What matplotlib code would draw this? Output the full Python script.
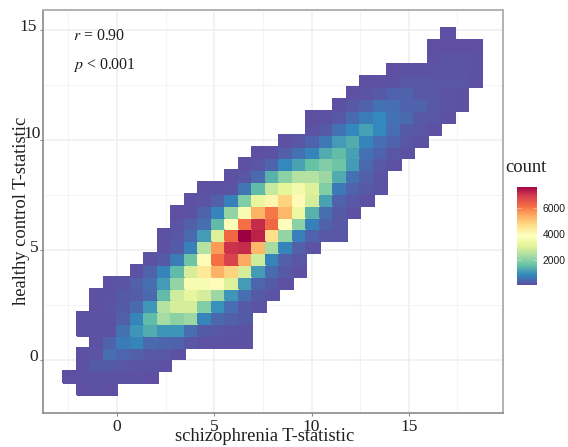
import matplotlib
matplotlib.use("Agg")
import matplotlib.pyplot as plt
import numpy as np
from matplotlib.colors import Normalize
from matplotlib.transforms import ScaledTranslation

# first occupied column of each row, bottom row first, with the counts that follow
row_starts = [1, 0, 1, 1, 2, 1, 1, 2, 2, 3, 5, 6, 7, 7, 8, 8, 9, 10, 12, 13, 14, 16, 18, 18, 20, 21, 22, 24, 27, 27, 28]
row_00 = [100, 110, 100]
row_01 = [100, 110, 120, 130, 120, 110, 100]
row_02 = [110, 230, 230, 170, 160, 140, 110]
row_03 = [110, 140, 500, 400, 300, 220, 200, 130]
row_04 = [120, 350, 700, 800, 450, 400, 350, 180, 130, 110, 110, 110]
row_05 = [110, 120, 130, 550, 1000, 1300, 1000, 1000, 500, 250, 170, 150, 130]
row_06 = [110, 120, 130, 300, 800, 1500, 2300, 2000, 2200, 800, 420, 300, 250]
row_07 = [130, 150, 250, 450, 1050, 2500, 2900, 2900, 1900, 950, 500, 250, 150]
row_08 = [120, 130, 250, 280, 450, 1500, 2800, 3200, 2900, 2200, 1000, 500, 250, 150]
row_09 = [120, 150, 300, 500, 1100, 2100, 3600, 3600, 3950, 3000, 1100, 400, 250, 120]
row_10 = [120, 350, 800, 1500, 2900, 4400, 5300, 4800, 2900, 1100, 450, 200, 130]
row_11 = [130, 250, 700, 1700, 3950, 6100, 6800, 5400, 2800, 800, 300, 170]
row_12 = [120, 250, 750, 2500, 5600, 7000, 7100, 5200, 2300, 800, 300, 150]
row_13 = [130, 170, 450, 1100, 3000, 6200, 7640, 7200, 4600, 2100, 750, 350, 220, 180]
row_14 = [150, 300, 500, 1500, 3700, 6100, 7100, 6200, 3900, 2000, 750, 350, 200]
row_15 = [100, 130, 350, 800, 2100, 3600, 5300, 6000, 5200, 3300, 1400, 500, 250, 130]
row_16 = [120, 140, 300, 750, 1900, 3200, 4100, 4800, 4000, 2900, 1200, 350, 200, 130]
row_17 = [120, 120, 150, 600, 1500, 2700, 3100, 3500, 3000, 1900, 650, 350, 200, 150]
row_18 = [120, 180, 450, 1400, 2000, 2500, 2500, 2200, 1300, 550, 300, 150]
row_19 = [120, 180, 350, 850, 1200, 1600, 1900, 1700, 1100, 450, 220, 130]
row_20 = [100, 120, 300, 550, 800, 1300, 1550, 1150, 550, 350, 180, 120]
row_21 = [120, 180, 350, 650, 1100, 1300, 800, 500, 350, 180, 120]
row_22 = [120, 250, 550, 850, 1150, 850, 500, 250, 170, 130]
row_23 = [100, 120, 220, 450, 700, 850, 550, 450, 220, 170, 120]
row_24 = [120, 200, 350, 550, 500, 350, 350, 200, 150, 120]
row_25 = [120, 160, 200, 350, 350, 220, 170, 150, 130]
row_26 = [100, 110, 130, 200, 220, 180, 170, 170, 120]
row_27 = [100, 110, 110, 140, 150, 150, 120]
row_28 = [120, 150, 150, 120]
row_29 = [100, 100, 100, 100]
row_30 = [100]
rows = [row_00, row_01, row_02, row_03, row_04, row_05, row_06, row_07, row_08, row_09,
        row_10, row_11, row_12, row_13, row_14, row_15, row_16, row_17, row_18, row_19,
        row_20, row_21, row_22, row_23, row_24, row_25, row_26, row_27, row_28, row_29, row_30]

x_first_edge, x_bin = -2.76, 0.694
y_first_edge, y_bin = -1.59, 0.538
x_ticks = [0, 5, 10, 15]
y_ticks = [0, 5, 10, 15]
x_label = "schizophrenia T-statistic"
y_label = "healthy control T-statistic"
legend_ticks = [2000, 4000, 6000]
count_min, count_max = 80, 7640

W, H = 568, 447
SERIF = "Liberation Serif"
INK = "#1f1f1f"
plt.rcParams["font.family"] = SERIF
fig = plt.figure(figsize=(W / 100, H / 100), dpi=100)


def axes_px(l, t, r, b, **kw):
    return fig.add_axes([l / W, 1 - b / H, (r - l) / W, (b - t) / H], **kw)


ax = axes_px(42.5, 10.5, 502.7, 413)
grid = np.full((len(rows), 31), np.nan)
for r, (start, vals) in enumerate(zip(row_starts, rows)):
    grid[r, start:start + len(vals)] = vals
xe = x_first_edge + x_bin * np.arange(32)
ye = y_first_edge + y_bin * np.arange(32)
norm = Normalize(count_min, count_max)
cmap = plt.get_cmap("Spectral_r")
ax.pcolormesh(xe, ye, np.ma.masked_invalid(grid), cmap=cmap, norm=norm, zorder=2,
              edgecolors="face", linewidth=0.15)
ax.set_xlim(-3.83, 19.83)
ax.set_ylim(-2.41, 15.9)
ax.set_xticks(x_ticks)
ax.set_yticks(y_ticks)
ax.set_xticks([-2.5, 2.5, 7.5, 12.5, 17.5], minor=True)
ax.set_yticks([2.5, 7.5, 12.5], minor=True)
ax.grid(True, which="major", color="#efefef", lw=1.1, zorder=0)
ax.grid(True, which="minor", color="#f4f4f4", lw=0.8, zorder=0)
ax.set_axisbelow(True)
ax.tick_params(which="minor", length=0)
ax.tick_params(axis="x", which="major", length=2, width=0.8, color="#8a8a8a", labelsize=12.5, pad=2.5, labelcolor=INK)
ax.tick_params(axis="y", which="major", length=2, width=0.8, color="#8a8a8a", labelsize=12.5, pad=1, labelcolor=INK)
# the y tick labels sit a little above their ticks in the reference
y_shift_px = {0: (0, 5), 5: (0, 4), 10: (2.5, 8), 15: (-2, 5)}
for tick_value, lab in zip(y_ticks, ax.get_yticklabels()):
    dx, dy = y_shift_px[tick_value]
    lab.set_transform(lab.get_transform() + ScaledTranslation(dx / 100, dy / 100, fig.dpi_scale_trans))
for s in ax.spines.values():
    s.set_color("#a6a6a6")
    s.set_linewidth(1.2)
ax.spines["bottom"].set_color("#8a8a8a")
ax.spines["left"].set_color("#8a8a8a")

fig.text(264.5 / W, 1 - 436.5 / H, x_label, ha="center", va="center", fontsize=13.3, color=INK)
fig.text(21.5 / W, 1 - 210.5 / H, y_label, ha="center", va="center", rotation=90, fontsize=13.3, color=INK)
fig.text(73 / W, 1 - 36.5 / H, "$\\mathit{r}$ = 0.90", ha="left", va="center", fontsize=11.4, color=INK,
         math_fontfamily="stix")
fig.text(73 / W, 1 - 65.5 / H, "$\\mathit{p}$ < 0.001", ha="left", va="center", fontsize=11.4, color=INK,
         math_fontfamily="stix")
fig.text(505.5 / W, 1 - 168 / H, "count", ha="left", va="center", fontsize=13.3, color=INK)

cax = axes_px(517, 186.7, 536.5, 285)
levels = np.linspace(count_min, count_max, 256)
cax.imshow(levels[::-1, None], aspect="auto", cmap=cmap, norm=norm,
           extent=[0, 1, count_min, count_max])
cax.set_xticks([])
cax.yaxis.tick_right()
cax.set_yticks(legend_ticks)
cax.set_yticklabels([str(t) for t in legend_ticks], fontsize=7.4, family="Liberation Sans", color="#1a1a1a")
cax.tick_params(axis="y", length=0, pad=4.5)
for s in cax.spines.values():
    s.set_visible(False)
for t in legend_ticks:
    cax.plot([0, 0.2], [t, t], color="white", lw=0.4, alpha=0.6)
    cax.plot([0.8, 1], [t, t], color="white", lw=0.4, alpha=0.6)
cax.set_xlim(0, 1)
cax.set_ylim(count_min, count_max)

fig.savefig("out.png", dpi=100)
